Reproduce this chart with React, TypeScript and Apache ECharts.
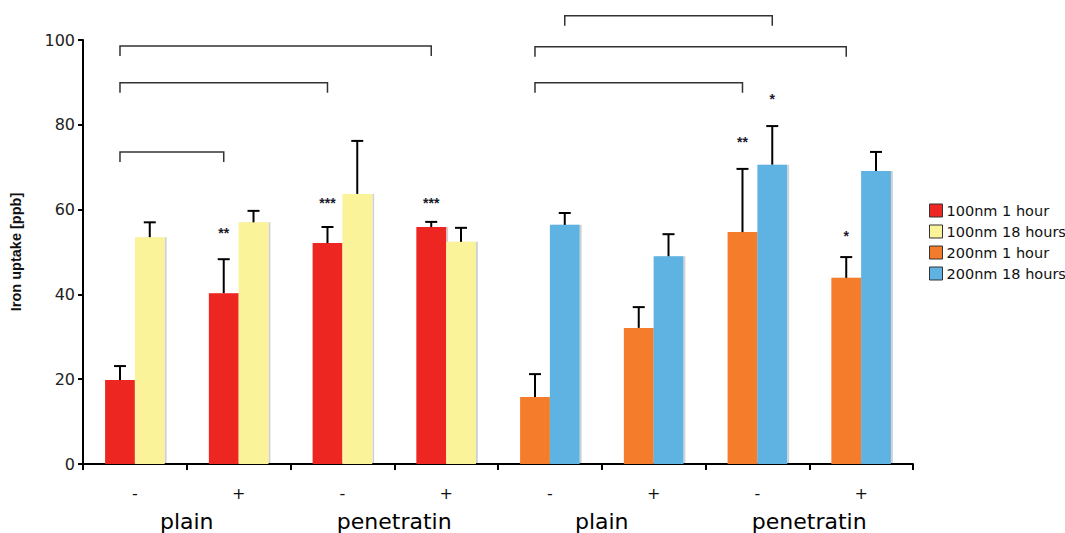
import React, { useEffect, useRef } from 'react';
import * as echarts from 'echarts';

const categories = ['-', '+', '-', '+', '-', '+', '-', '+'];
const groupLabels = ['plain', 'penetratin', 'plain', 'penetratin'];
const seriesNames = ['100nm 1 hour', '100nm 18 hours', '200nm 1 hour', '200nm 18 hours'];
const seriesColors = ['#EE2624', '#FBF39A', '#F47B2A', '#5FB3E3'];

const red100nm1h = [19.8, 40.3, 52.1, 55.9, null, null, null, null];
const yellow100nm18h = [53.5, 57.0, 63.7, 52.4, null, null, null, null];
const orange200nm1h = [null, null, null, null, 15.8, 32.1, 54.7, 43.9];
const blue200nm18h = [null, null, null, null, 56.4, 49.0, 70.6, 69.1];

const red100nm1hErrTop = [23.1, 48.3, 55.9, 57.1, null, null, null, null];
const yellow100nm18hErrTop = [57.0, 59.7, 76.2, 55.7, null, null, null, null];
const orange200nm1hErrTop = [null, null, null, null, 21.2, 37.0, 69.6, 48.8];
const blue200nm18hErrTop = [null, null, null, null, 59.2, 54.2, 79.7, 73.6];

// [fromCategory, fromSlot, toCategory, toSlot, level]
const brackets = [
  [0, 0, 1, 0, 73.6],
  [0, 0, 2, 0, 89.9],
  [0, 0, 3, 0, 98.6],
  [4, 1, 6, 1, 105.7],
  [4, 0, 7, 0, 98.4],
  [4, 0, 6, 0, 89.9],
];

// [category, slot, level, text]
const stars: [number, number, number, string][] = [
  [1, 0, 54.5, '**'],
  [2, 0, 61.6, '***'],
  [3, 0, 61.6, '***'],
  [6, 0, 76.0, '**'],
  [6, 1, 86.0, '*'],
  [7, 0, 53.8, '*'],
];

const yTicks = { min: 0, max: 100, interval: 20 };
const BAR_FRACTION = 0.287;
const FONT = '"Liberation Sans", Arial, Helvetica, sans-serif';
const WIDE = '"DejaVu Sans", "Liberation Sans", Arial, sans-serif';

export default function App() {
  const ref = useRef<HTMLDivElement>(null);
  useEffect(() => {
    if (!ref.current) return;
    const chart = echarts.init(ref.current, undefined, { renderer: 'svg' });

    const valueSets = [red100nm1h, yellow100nm18h, orange200nm1h, blue200nm18h];
    const errSets = [red100nm1hErrTop, yellow100nm18hErrTop, orange200nm1hErrTop, blue200nm18hErrTop];
    const slotOf = [0, 1, 0, 1];
    const errData: number[][] = [];
    valueSets.forEach((vals, s) => {
      vals.forEach((v, i) => {
        const e = errSets[s][i];
        if (v != null && e != null) errData.push([i, slotOf[s], v, e]);
      });
    });

    const slotX = (api: any, cat: number, slot: number, val: number) => {
      const c = api.coord([cat, val]);
      const band = api.size([1, 0])[0];
      const bw = band * BAR_FRACTION;
      return [c[0] + (slot === 0 ? -bw / 2 : bw / 2), c[1]];
    };

    const barSeries = seriesNames.map((name, s) => ({
      name,
      type: 'bar',
      stack: slotOf[s] === 0 ? 'L' : 'R',
      data: valueSets[s].map((v) => (v == null ? '-' : v)),
      barWidth: BAR_FRACTION * 100 + '%',
      barGap: '0%',
      itemStyle: {
        color: seriesColors[s],
        shadowColor: 'rgba(0,0,0,0.18)',
        shadowOffsetX: 2,
        shadowBlur: 0,
      },
      emphasis: { disabled: true },
    }));

    chart.setOption({
      animation: false,
      backgroundColor: '#fff',
      textStyle: { fontFamily: FONT },
      grid: { left: 78, right: 152, top: 40, bottom: 69, containLabel: false },
      legend: {
        data: seriesNames,
        orient: 'vertical',
        left: 924,
        top: 198,
        itemWidth: 13,
        itemHeight: 13,
        itemGap: 6,
        icon: 'rect',
        itemStyle: { borderColor: '#333', borderWidth: 1 },
        textStyle: { fontSize: 14.5, color: '#111', fontFamily: WIDE, padding: [0, 0, 0, -1] },
        selectedMode: false,
      },
      xAxis: [
        {
          type: 'category',
          data: categories,
          axisLine: { lineStyle: { color: '#000', width: 2 } },
          axisTick: { show: true, length: 6, lineStyle: { color: '#000', width: 2 } },
          axisLabel: { fontSize: 16, color: '#111', margin: 21, fontFamily: WIDE },
        },
        {
          type: 'category',
          data: groupLabels,
          position: 'bottom',
          offset: 38,
          axisLine: { show: false },
          axisTick: { show: false },
          axisLabel: { fontSize: 22, color: '#000', margin: 8, fontFamily: WIDE },
        },
      ],
      yAxis: {
        type: 'value',
        min: yTicks.min,
        max: yTicks.max,
        interval: yTicks.interval,
        name: 'Iron uptake [ppb]',
        nameLocation: 'middle',
        nameGap: 60,
        nameTextStyle: { fontSize: 14.5, fontWeight: 'bold', color: '#111', fontFamily: FONT },
        axisLine: { show: true, lineStyle: { color: '#000', width: 2 } },
        axisTick: { show: true, length: 5, lineStyle: { color: '#000', width: 2 } },
        axisLabel: { fontSize: 16, color: '#222', margin: 8, fontFamily: WIDE },
        splitLine: { show: false },
      },
      series: [
        ...barSeries,
        {
          type: 'custom',
          xAxisIndex: 0,
          clip: false,
          silent: true,
          z: 5,
          data: errData,
          encode: { x: 0, y: 3 },
          renderItem: (params: any, api: any) => {
            const cat = api.value(0);
            const slot = api.value(1);
            const base = slotX(api, cat, slot, api.value(2));
            const top = slotX(api, cat, slot, api.value(3));
            const style = { stroke: '#000', lineWidth: 2 };
            return {
              type: 'group',
              children: [
                { type: 'line', shape: { x1: base[0], y1: base[1], x2: top[0], y2: top[1] }, style },
                { type: 'line', shape: { x1: top[0] - 6, y1: top[1], x2: top[0] + 6, y2: top[1] }, style },
              ],
            };
          },
        },
        {
          type: 'custom',
          xAxisIndex: 0,
          clip: false,
          silent: true,
          z: 5,
          data: brackets,
          encode: { x: 0, y: 4 },
          renderItem: (params: any, api: any) => {
            const a = slotX(api, api.value(0), api.value(1), api.value(4));
            const b = slotX(api, api.value(2), api.value(3), api.value(4));
            const drop = 10;
            return {
              type: 'polyline',
              shape: { points: [[a[0], a[1] + drop], [a[0], a[1]], [b[0], b[1]], [b[0], b[1] + drop]] },
              style: { stroke: '#333', lineWidth: 1.5, fill: null },
            };
          },
        },
        {
          type: 'custom',
          xAxisIndex: 0,
          clip: false,
          silent: true,
          z: 6,
          data: stars.map((s) => [s[0], s[1], s[2], s[3]]),
          encode: { x: 0, y: 2 },
          renderItem: (params: any, api: any) => {
            const p = slotX(api, api.value(0), api.value(1), api.value(2));
            const txt = stars[params.dataIndex][3];
            return {
              type: 'text',
              x: p[0],
              y: p[1],
              style: {
                text: txt,
                fill: '#1a1a2a',
                font: 'bold 14px ' + FONT,
                align: 'center',
                verticalAlign: 'middle',
              },
            };
          },
        },
      ],
    });
    return () => chart.dispose();
  }, []);
  return <div ref={ref} style={{ position: 'fixed', left: 0, top: 0, width: 1065, height: 533 }} />;
}
